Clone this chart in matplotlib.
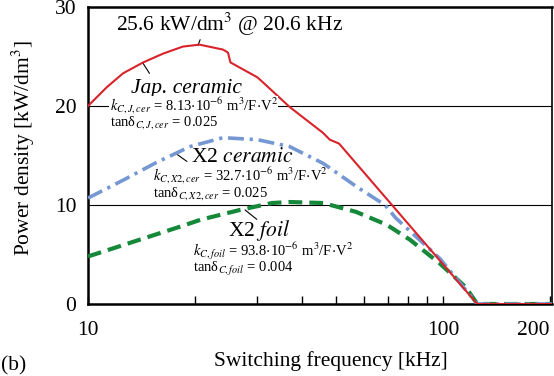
import matplotlib
matplotlib.use("Agg")
import matplotlib.pyplot as plt
from matplotlib.ticker import FixedLocator, NullFormatter

plt.rcParams['font.family'] = ['Liberation Serif', 'DejaVu Serif']
plt.rcParams['mathtext.fontset'] = 'stix'

# Jap. ceramic (red)
f_jap = [10, 11.3, 12.55, 14.3, 16.3, 18.5, 20.6, 24.0, 24.8, 25.2, 30, 31.1, 37, 45.9, 48, 51, 125, 203]
p_jap = [20.0, 21.9, 23.3, 24.4, 25.3, 26.0, 26.2, 25.7, 25.4, 24.4, 22.9, 22.4, 19.9, 17.3, 16.6, 16.2, 0, 0]

# X2 ceramic (blue)
f_x2c = [10, 12.55, 15.6, 19.4, 24.0, 30, 37, 46, 50, 57.4, 68.7, 73.6, 98, 125, 203]
p_x2c = [10.7, 12.5, 14.3, 15.9, 16.8, 16.6, 15.9, 14.2, 13.3, 11.8, 10.0, 8.7, 4.6, 0, 0]

# X2 foil (green)
f_foil = [10, 14, 18.5, 20.7, 26.8, 33, 37, 46, 57, 69.5, 80.7, 98, 116, 125, 203]
p_foil = [4.8, 6.5, 7.9, 8.5, 9.5, 10.2, 10.3, 10.2, 9.3, 8.0, 6.5, 4.1, 1.7, 0, 0]

fig = plt.figure(figsize=(5.54, 3.76), dpi=100)
ax = fig.add_axes([88 / 554, 72 / 376, 464 / 554, 297 / 376])

ax.plot(f_foil, p_foil, color='#15883a', lw=3.0, dashes=(3.3, 1.7), zorder=3)
ax.plot(f_x2c, p_x2c, color='#7597d3', lw=2.6, dashes=(4.4, 1.6, 0.9, 1.6), zorder=4)
ax.plot(f_jap, p_jap, color='#d9232b', lw=1.5, zorder=5)

ax.set_xscale('log')
ax.set_xlim(10, 203)
ax.set_ylim(0, 30)

ax.xaxis.set_major_locator(FixedLocator([10, 100, 200]))
ax.set_xticklabels(['10', '100', '200'])
ax.xaxis.set_minor_locator(FixedLocator([20, 30, 40, 50, 60, 70, 80, 90]))
ax.xaxis.set_minor_formatter(NullFormatter())
ax.tick_params(axis='x', which='both', direction='in', length=6, width=1, pad=12, labelsize=15.5)
ax.tick_params(axis='y', length=0, pad=8.5, labelsize=15.5)
ax.set_yticks([0, 10, 20, 30])
ax.get_xticklabels()[2].set_horizontalalignment('right')

ax.yaxis.grid(True, color='black', lw=0.8)
ax.set_axisbelow(True)

for s in ['left', 'bottom', 'top']:
    ax.spines[s].set_linewidth(1.8)
ax.spines['right'].set_linewidth(1.2)

ax.set_xlabel('Switching frequency [kHz]', fontsize=15.5, labelpad=8, x=0.524)
ax.set_ylabel('Power density [kW/dm$^3$]', fontsize=15.5, labelpad=13, y=0.525)

leader = dict(arrowstyle='-', color='black', lw=0.8, shrinkA=0, shrinkB=0)
small = 10.5

# peak label
ax.text(25.1, 28.2, '25.6 kW/dm$^3$ @ 20.6 kHz', fontsize=15.5, ha='center', va='center')
ax.annotate('', xy=(20.4, 26.1), xytext=(20.7, 26.7), arrowprops=leader)

# Jap. ceramic
ax.text(18.9, 21.8, 'Jap. ceramic', fontsize=15.5, style='italic', ha='center', va='center')
ax.annotate('', xy=(14.3, 24.3), xytext=(14.9, 23.3), arrowprops=leader)
ax.text(11.5, 20.0, '$k_{C,J,cer}$ = 8.13$\\cdot$10$^{-6}$ m$^3$/F$\\cdot$V$^2$', fontsize=small,
        va='center', ha='left', bbox=dict(facecolor='white', edgecolor='none', pad=0.2), zorder=6)
ax.text(11.5, 18.3, 'tanδ$_{C,J,cer}$ = 0.025', fontsize=small, va='center', ha='left', zorder=7)

# X2 ceramic
ax.text(27.2, 14.8, 'X2 $\\mathit{ceramic}$', fontsize=15.5, ha='center', va='center')
ax.annotate('', xy=(17.6, 15.25), xytext=(19.0, 14.4), arrowprops=leader)
ax.text(15.2, 12.9, '$k_{C,X2,cer}$ = 32.7$\\cdot$10$^{-6}$ m$^3$/F$\\cdot$V$^2$', fontsize=small,
        va='center', ha='left')
ax.text(15.2, 11.2, 'tanδ$_{C,X2,cer}$ = 0.025', fontsize=small, va='center', ha='left')

# X2 foil
ax.text(30.3, 7.45, 'X2 $\\mathit{foil}$', fontsize=15.5, ha='center', va='center')
ax.annotate('', xy=(27.7, 9.5), xytext=(29.9, 8.55), arrowprops=leader)
ax.text(19.8, 5.3, '$k_{C,foil}$ = 93.8$\\cdot$10$^{-6}$ m$^3$/F$\\cdot$V$^2$', fontsize=small,
        va='center', ha='left')
ax.text(19.8, 3.55, 'tanδ$_{C,foil}$ = 0.004', fontsize=small, va='center', ha='left')

fig.text(1 / 554, 1 - 366 / 376, '(b)', fontsize=15.5, ha='left', va='center')

fig.savefig('out.png', dpi=100)
